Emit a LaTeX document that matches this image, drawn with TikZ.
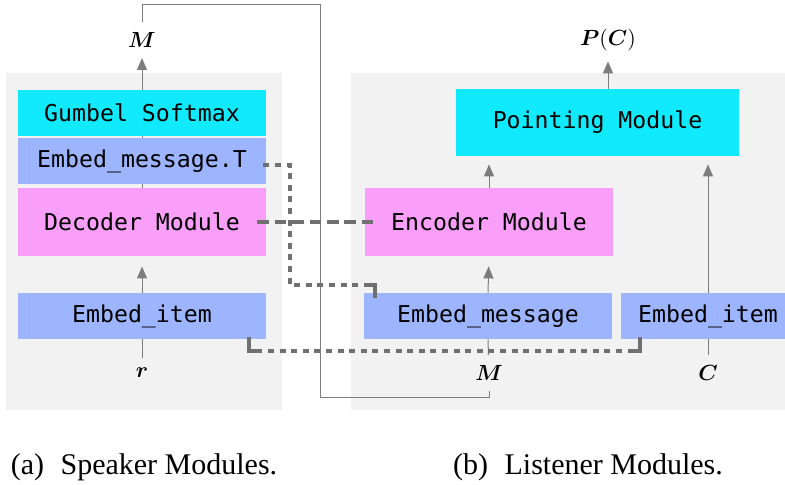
\documentclass[tikz,border=0pt]{standalone}
\usepackage{fontspec}
\setmainfont{Liberation Serif}
\setmonofont{DejaVu Sans Mono}
\usepackage{bm}
\usetikzlibrary{arrows.meta,calc,backgrounds}

\definecolor{softmaxcyan}{RGB}{16,234,252}
\definecolor{embedblue}{RGB}{157,180,255}
\definecolor{modpink}{RGB}{249,159,249}
\definecolor{panelgray}{RGB}{242,242,242}
\definecolor{linegray}{RGB}{125,125,125}
\definecolor{sharegray}{RGB}{112,112,112}

\tikzset{
  module/.style={rectangle, inner sep=0pt, minimum width=124pt, minimum height=23pt,
    font=\fontsize{11.6}{13}\selectfont\ttfamily},
  embedbox/.style={module, fill=embedblue},
  pinkbox/.style={module, fill=modpink, minimum height=34pt},
  cyanbox/.style={module, fill=softmaxcyan},
  varlabel/.style={inner sep=5pt, font=\fontsize{10.5}{12}\selectfont},
  flow/.style={draw=linegray, line width=0.5pt, -{Triangle[width=5pt,length=6pt]}},
  feed/.style={draw=linegray, line width=0.5pt},
  tied/.style={draw=sharegray, line width=2pt, dash pattern=on 5.8pt off 2.9pt},
  shared/.style={draw=sharegray, line width=2pt, dash pattern=on 3pt off 2.8pt},
  sharestub/.style={draw=sharegray, line width=2pt},
  subcap/.style={inner sep=0pt, font=\fontsize{15}{18}\selectfont}
}

\begin{document}
\begin{tikzpicture}[x=0.5pt, y=-0.5pt]
    \useasboundingbox (0,0) rectangle (785,484);

    % Speaker modules
    \node[cyanbox] (gumbel) at (142,113) {Gumbel Softmax};
    \node[embedbox] (embT) at (142,161) {Embed\_message.T};
    \node[pinkbox] (decoder) at (142,222) {Decoder Module};
    \node[embedbox] (itemL) at (142,316) {Embed\_item};
    \node[varlabel] (mtop) at (142,40) {$\bm{M}$};
    \node[varlabel] (r) at (142,373) {$\bm{r}$};

    % Listener modules
    \node[cyanbox, minimum width=141.5pt, minimum height=33.5pt] (pointing) at (597.5,122.5) {Pointing Module};
    \node[pinkbox] (encoder) at (489,222) {Encoder Module};
    \node[embedbox] (embmsg) at (488,316) {Embed\_message};
    \node[embedbox, minimum width=87pt] (itemR) at (708,316) {Embed\_item};
    \node[varlabel] (pc) at (608,40) {$\bm{P}(\bm{C})$};
    \node[varlabel] (mbot) at (489,373) {$\bm{M}$};
    \node[varlabel] (c) at (708,373) {$\bm{C}$};

    % Captions
    \node[subcap] (capa) at (144,467) {(a)\hspace{0.55em}Speaker Modules.};
    \node[subcap] (capb) at (588,467) {(b)\hspace{0.55em}Listener Modules.};

    \coordinate (loopA) at (320,397);
    \coordinate (loopB) at (320,4);
    \coordinate (shareA) at (290,285);
    \coordinate (shareB) at (400,351);

    \begin{pgfonlayer}{background}
      % Panels
      \fill[panelgray] (6,73) rectangle (282,410);
      \fill[panelgray] (351,73) rectangle (785,410);

      % Data flow
      \draw[feed] (r) -- (itemL.south);
      \draw[flow, shorten >=5pt] (itemL.north) -- (decoder.south);
      \draw[flow] (decoder.north) -- (mtop);
      \draw[feed] (mbot.south) |- (loopA) -- (loopB) -| (mtop.north);
      \draw[feed] (mbot) -- (embmsg.south);
      \draw[feed] (c) -- (itemR.south);
      \draw[flow, shorten >=5pt] (embmsg.north) -- (encoder.south);
      \draw[flow, shorten >=4pt] (encoder.north) -- (encoder.north |- pointing.south);
      \draw[flow, shorten >=4pt] (itemR.north) -- (itemR.north |- pointing.south);
      \draw[flow] (pc |- pointing.north) -- (pc);
    \end{pgfonlayer}

    % Tied weights
    \draw[tied] ($(decoder.east)+(-9,0)$) -- ($(encoder.west)+(8,0)$);
    \draw[shared] ($(embT.east)+(-3,4)$) -| (shareA) -- (shareA -| embmsg.north west);
    \draw[sharestub] ($(shareA -| embmsg.north west)+(0,0)$) -| ($(embmsg.north west)+(11,5)$);
    \draw[sharestub] ($(itemL.south east)+(-17,-2)$) |- ($(shareB -| itemL.south east)+(-10,0)$);
    \draw[shared] ($(shareB -| itemL.south east)+(-10,0)$) -- ($(shareB -| itemR.south west)+(10,0)$);
    \draw[sharestub] ($(shareB -| itemR.south west)+(10,0)$) -| ($(itemR.south west)+(19,-2)$);
\end{tikzpicture}
\end{document}
